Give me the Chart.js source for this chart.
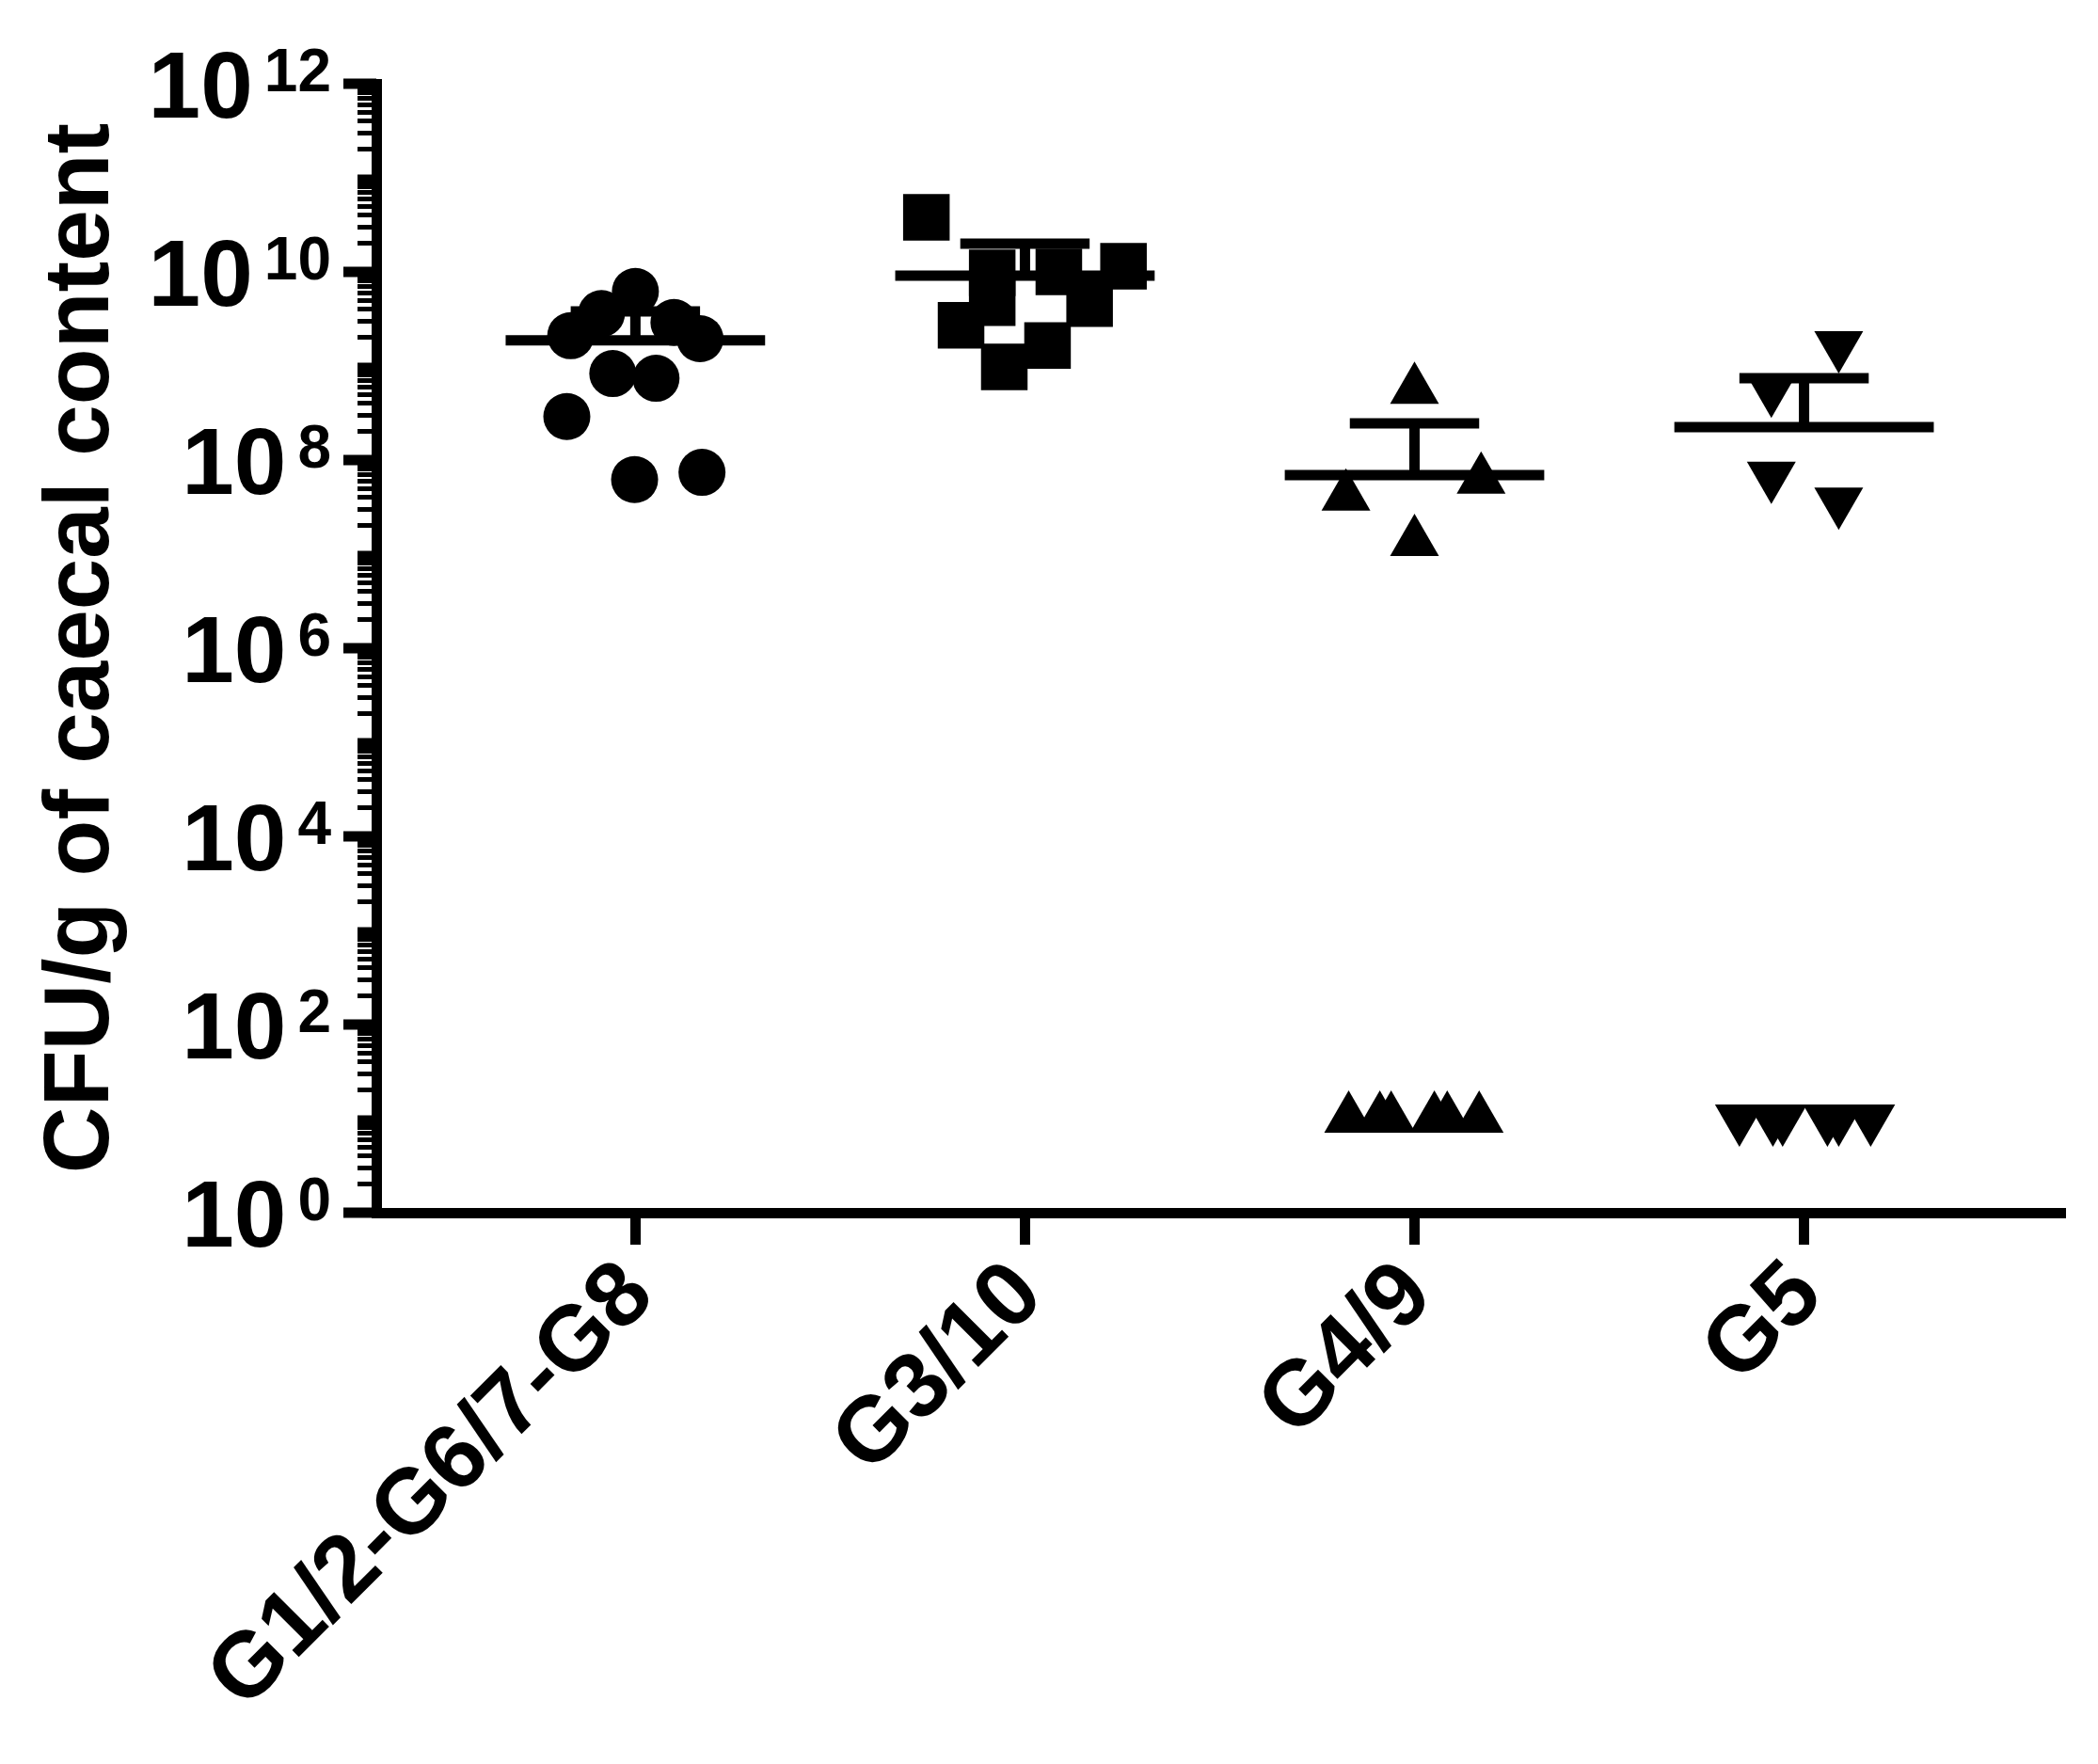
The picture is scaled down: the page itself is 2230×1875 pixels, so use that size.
<!DOCTYPE html>
<html>
<head>
<meta charset="utf-8">
<script src="https://cdn.jsdelivr.net/npm/chart.js@4.4.1/dist/chart.umd.min.js"></script>
<style>
html,body{margin:0;padding:0;background:#fff}
#contenitore{width:2230px;height:1875px}
</style>
</head>
<body>
<div id="contenitore"><canvas id="grafico"></canvas></div>
<script>
//gruppi sull'asse x (posizioni 1..4)
var gruppi=['G1/2-G6/7-G8','G3/10','G4/9','G5'];

//valori (CFU/g), x = posizione del punto nel gruppo
var g1X=[1.0,0.913,0.834,1.099,1.166,0.942,1.053,0.824,0.998,1.171];
var g1Y=[6.2e9,3.6e9,2.1e9,2.9e9,1.95e9,8.3e8,7.4e8,2.9e8,6.2e7,7.4e7];

var g2X=[1.747,2.253,1.916,2.087,1.916,2.166,1.836,2.058,1.947];
var g2Y=[3.8e10,1.15e10,9.8e9,1.0e10,4.7e9,4.6e9,2.7e9,1.65e9,9.8e8];

var g3X=[3.0,2.824,3.171,3.0,2.831,2.911,2.940,3.051,3.084,3.166];
var g3Y=[5.6e8,4.1e7,6.2e7,1.35e7,10,10,10,10,10,10];

var g4X=[4.089,3.916,3.916,4.089,3.834,3.920,3.945,4.060,4.089,4.171];
var g4Y=[1.66e9,5.6e8,6.8e7,3.6e7,10,10,10,10,10,10];

//media e estremo superiore della barra di errore per ogni gruppo
var medie=[1.87e9,9.1e9,6.9e7,2.24e8];
var barraSup=[3.8e9,2.0e10,2.45e8,7.4e8];

//esponenti delle etichette dell'asse y
var esponenti=[0,2,4,6,8,10,12];

var FONT='"Liberation Sans", Arial, sans-serif';
Chart.defaults.font.family=FONT;
Chart.defaults.color='#000';

function punti(xs,ys){
    var d=[];
    for(var i=0;i<xs.length;i++) d.push({x:xs[i],y:ys[i]});
    return d;
}

//segmenti delle medie e delle barre di errore (null = interruzione)
var segMedie=[],segBarre=[];
for(var i=0;i<medie.length;i++){
    var c=i+1;
    segMedie.push({x:c-0.333,y:medie[i]},{x:c+0.333,y:medie[i]},{x:c,y:null});
    segBarre.push({x:c,y:medie[i]},{x:c,y:barraSup[i]},{x:c,y:null});
    segBarre.push({x:c-0.166,y:barraSup[i]},{x:c+0.166,y:barraSup[i]},{x:c,y:null});
}

//plugin per le etichette 10^n e le tacche maggiori dell'asse y
var etichetteY={
    id:'etichetteY',
    afterDraw:function(chart){
        var ctx=chart.ctx, sy=chart.scales.y;
        ctx.save();
        ctx.fillStyle='#000';
        ctx.strokeStyle='#000';
        esponenti.forEach(function(e){
            var py=sy.getPixelForValue(Math.pow(10,e));
            ctx.lineWidth=11;
            ctx.beginPath();
            ctx.moveTo(sy.right-35,py);
            ctx.lineTo(sy.right,py);
            ctx.stroke();
            ctx.textAlign='right';
            ctx.textBaseline='alphabetic';
            ctx.font='bold 64px '+FONT;
            var w=ctx.measureText(String(e)).width;
            var xr=sy.right-48;
            ctx.fillText(String(e),xr,py+8);
            ctx.font='bold 100px '+FONT;
            ctx.fillText('10',xr-w-12,py+36);
        });
        ctx.restore();
    }
};

var gr=document.getElementById('grafico').getContext('2d');
new Chart(gr,{
    type:'scatter',
    data:{
        datasets:[
            {data:punti(g1X,g1Y),pointStyle:'circle',pointRadius:25,backgroundColor:'#000',borderWidth:0},
            {data:punti(g2X,g2Y),pointStyle:'rect',pointRadius:35,backgroundColor:'#000',borderWidth:0},
            {data:punti(g3X,g3Y),pointStyle:'triangle',pointRadius:30,backgroundColor:'#000',borderWidth:0},
            {data:punti(g4X,g4Y),pointStyle:'triangle',rotation:180,pointRadius:30,backgroundColor:'#000',borderWidth:0},
            {data:segMedie,showLine:true,spanGaps:false,pointRadius:0,borderColor:'#000',borderWidth:11},
            {data:segBarre,showLine:true,spanGaps:false,pointRadius:0,borderColor:'#000',borderWidth:11}
        ]
    },
    options:{
        responsive:true,
        maintainAspectRatio:false,
        animation:false,
        layout:{padding:{top:89,right:30,left:0,bottom:0}},
        plugins:{legend:{display:false},tooltip:{enabled:false}},
        scales:{
            x:{
                type:'linear',
                min:0.335,max:4.67,
                afterBuildTicks:function(s){
                    s.ticks=[1,2,3,4].map(function(v){return {value:v};});
                },
                afterFit:function(s){s.height=586;},
                ticks:{
                    autoSkip:false,minRotation:45,maxRotation:45,padding:0,labelOffset:4,
                    font:{size:98,weight:'bold',lineHeight:1.1},color:'#000',
                    callback:function(v,i){return gruppi[i];}
                },
                grid:{drawOnChartArea:false,drawTicks:true,tickLength:34,tickWidth:11,color:'#000'},
                border:{display:true,width:11,color:'#000'}
            },
            y:{
                type:'logarithmic',
                min:1,max:1e12,
                afterBuildTicks:function(s){
                    var t=[];
                    for(var e=0;e<12;e++)
                        for(var m=1;m<10;m++) t.push({value:m*Math.pow(10,e)});
                    t.push({value:1e12});
                    s.ticks=t;
                },
                afterFit:function(s){s.width=400;},
                ticks:{display:false,autoSkip:false},
                grid:{
                    drawOnChartArea:false,drawTicks:true,tickLength:20,color:'#000',
                    tickWidth:function(c){
                        if(!c.tick) return 5;
                        var l=Math.log10(c.tick.value);
                        return Math.abs(l-Math.round(l))<1e-6?8:5;
                    }
                },
                border:{display:true,width:11,color:'#000'},
                title:{
                    display:true,text:'CFU/g of caecal content',color:'#000',
                    font:{size:98,weight:'bold',lineHeight:1.2},
                    padding:{top:29,bottom:0}
                }
            }
        }
    },
    plugins:[etichetteY]
});
</script>
</body>
</html>
